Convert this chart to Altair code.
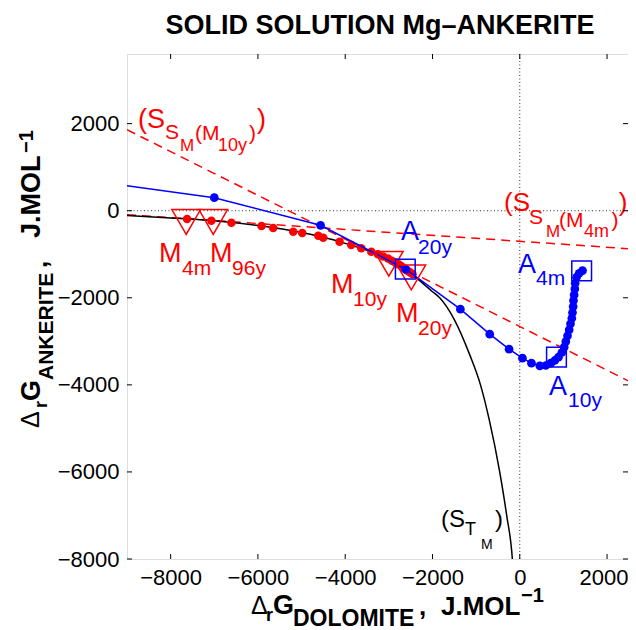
import altair as alt
import pandas as pd

FONT = "Liberation Sans"

# ---------------- data ----------------
# (S_TM) solid-solution curve (black)
stm_x = [-9000, -8000, -7000, -6000, -5000, -4500, -4000, -3500, -3000, -2600,
         -2300, -2000, -1835, -1500, -1150, -900, -700, -460, -300, -170, -150]
stm_y = [-110, -165, -230, -340, -500, -610, -750, -910, -1110, -1350,
         -1600, -1860, -2000, -2500, -3300, -4000, -4800, -6000, -7000, -8000, -8300]

# red points (Mg-ankerite samples on the S_TM curve)
red_x = [-7624, -7066, -6607, -5918, -5650, -5191, -4985, -4618, -4503, -4129,
         -3861, -3632, -3402, -3250, -3130, -3020, -2930, -2850, -2780, -2720,
         -2670, -2630, -2600, -2560, -2510, -2460]
red_y = [-190, -229, -275, -351, -397, -482, -512, -573, -619, -711,
         -787, -863, -940, -1000, -1050, -1100, -1150, -1190, -1230, -1270,
         -1310, -1340, -1360, -1385, -1420, -1455]

# blue path (ankerite)
blue_x = [-9600, -7000, -4565, -2615, -1361, -688, -245, 61, 268, 459, 596, 711,
          803, 887, 963, 1017, 1055, 1094, 1132, 1162, 1193, 1208, 1223, 1231,
          1246, 1262, 1269, 1300, 1361, 1438]
blue_y = [655, 300, -335, -1344, -2262, -2836, -3180, -3387, -3501, -3563, -3555,
          -3501, -3440, -3364, -3257, -3134, -3005, -2874, -2737, -2599, -2469,
          -2340, -2202, -2064, -1934, -1796, -1666, -1529, -1437, -1376]

# tangent lines (S_SM(M10y)) and (S_SM(M4m))
ss10_x = [-9000, 2600]
ss10_y = [1860, -3965]
ss4_x = [-9000, 2600]
ss4_y = [-90, -879]

# highlighted samples
tri_x = [-7644, -7024, -3001, -2485]
tri_y = [-259, -259, -1219, -1532]
sq_x = [-2623, 841, 1418]
sq_y = [-1342, -3364, -1379]

x_ticks = [-8000, -6000, -4000, -2000, 0, 2000]
y_ticks = [-8000, -6000, -4000, -2000, 0, 2000]

X_DOM = [-9000, 2480]
Y_DOM = [-8000, 3600]
W, H = 501, 505
PAD_L, PAD_T = 119, 46

# ---------------- annotation texts (data coords, left/baseline) ----------------
RED, BLUE, BLK = "#ff0000", "#0000ff", "#000000"
ann = [
    # (S_S_M(M_10y))
    (-8748, 1900, "(S", 27, RED), (-8129, 1648, "S", 21, RED), (-7785, 1372, "M", 17, RED),
    (-7441, 1625, "(M", 21, RED), (-6914, 1372, "10y", 18, RED), (-6204, 1625, ")", 21, RED),
    (-6020, 1900, ")", 27, RED),
    # (S_S_M(M_4m))
    (-359, -6, "(S", 26, RED), (214, -305, "S", 21, RED), (603, -604, "M", 17, RED),
    (901, -374, "(M", 21, RED), (1474, -604, "4m", 18, RED), (2100, -374, ")", 21, RED),
    (2270, -6, ")", 26, RED),
    # M labels
    (-8267, -1178, "M", 27, RED), (-7739, -1476, "4m", 21, RED),
    (-7098, -1178, "M", 27, RED), (-6593, -1476, "96y", 21, RED),
    (-4324, -1890, "M", 27, RED), (-3820, -2188, "10y", 21, RED),
    (-2835, -2556, "M", 27, RED), (-2330, -2855, "20y", 21, RED),
    # A labels
    (-2720, -672, "A", 27, BLUE), (-2330, -994, "20y", 21, BLUE),
    (-38, -1430, "A", 27, BLUE), (374, -1706, "4m", 21, BLUE),
    (672, -4233, "A", 27, BLUE), (1108, -4508, "10y", 21, BLUE),
    # (S_T_M)
    (-1803, -7265, "(S", 24, BLK), (-1253, -7449, "T", 18, BLK),
    (-886, -7770, "M", 14, BLK), (-565, -7265, ")", 24, BLK),
]
ann_df = pd.DataFrame(ann, columns=["x", "y", "t", "s", "c"])

xs = alt.Scale(domain=X_DOM, nice=False, zero=False)
ys = alt.Scale(domain=Y_DOM, nice=False, zero=False)

ax_common = dict(title=None, domain=False, ticks=False, grid=False,
                 labelFontSize=22, labelFont=FONT, labelColor="black", format="d",
                 labelPadding=8)
# last x label kept inside the page edge (right-aligned against the frame)
x_axis = alt.Axis(values=x_ticks, labelFlush=25, labelFlushOffset=21, **ax_common)
y_axis = alt.Axis(values=y_ticks, **ax_common)


def X(field="x"):
    return alt.X(f"{field}:Q", scale=xs, axis=x_axis)


def Y(field="y"):
    return alt.Y(f"{field}:Q", scale=ys, axis=y_axis)


layers = []

# zero lines (dotted)
zero = pd.DataFrame({"v": [0]})
layers.append(alt.Chart(zero).mark_rule(color="#333333", strokeDash=[1, 2.5], strokeWidth=1)
              .encode(x=X("v")))
layers.append(alt.Chart(zero).mark_rule(color="#333333", strokeDash=[1, 2.5], strokeWidth=1)
              .encode(y=Y("v")))

# dashed tangent lines
for lx, ly in [(ss10_x, ss10_y), (ss4_x, ss4_y)]:
    d = pd.DataFrame({"x": lx, "y": ly})
    layers.append(alt.Chart(d).mark_line(color=RED, strokeDash=[9, 6], strokeWidth=1.5, clip=True)
                  .encode(x=X(), y=Y()))

# black curve
stm = pd.DataFrame({"x": stm_x, "y": stm_y, "o": range(len(stm_x))})
layers.append(alt.Chart(stm).mark_line(color=BLK, strokeWidth=1.5, clip=True, interpolate="monotone")
              .encode(x=X(), y=Y(), order="o:Q"))

# red points
red = pd.DataFrame({"x": red_x, "y": red_y})
layers.append(alt.Chart(red).mark_circle(color=RED, size=72, opacity=1, clip=True)
              .encode(x=X(), y=Y()))

# blue path
blue = pd.DataFrame({"x": blue_x, "y": blue_y, "o": range(len(blue_x))})
layers.append(alt.Chart(blue).mark_line(color=BLUE, strokeWidth=1.5, clip=True)
              .encode(x=X(), y=Y(), order="o:Q"))
layers.append(alt.Chart(blue).mark_circle(color=BLUE, size=76, opacity=1, clip=True)
              .encode(x=X(), y=Y()))

# triangles and squares
tri = pd.DataFrame({"x": tri_x, "y": tri_y})
layers.append(alt.Chart(tri).mark_point(shape="triangle-down", size=820, color=RED, filled=False,
                                        strokeWidth=1.5, opacity=1)
              .encode(x=X(), y=Y()))
sq = pd.DataFrame({"x": sq_x, "y": sq_y})
layers.append(alt.Chart(sq).mark_point(shape="square", size=390, color=BLUE, filled=False,
                                       strokeWidth=1.5, opacity=1)
              .encode(x=X(), y=Y()))

# annotations
layers.append(alt.Chart(ann_df).mark_text(align="left", baseline="alphabetic", font=FONT)
              .encode(x=X(), y=Y(), text="t:N",
                      size=alt.Size("s:Q", scale=None, legend=None),
                      color=alt.Color("c:N", scale=None, legend=None)))

# inward ticks on all four sides
xt = pd.DataFrame({"v": x_ticks})
yt = pd.DataFrame({"v": y_ticks})
TL = 5
layers.append(alt.Chart(xt).mark_rule(color=BLK, strokeWidth=1)
              .encode(x=X("v"), y=alt.value(H), y2=alt.value(H - TL)))
layers.append(alt.Chart(xt).mark_rule(color=BLK, strokeWidth=1)
              .encode(x=X("v"), y=alt.value(0), y2=alt.value(TL)))
layers.append(alt.Chart(yt).mark_rule(color=BLK, strokeWidth=1)
              .encode(y=Y("v"), x=alt.value(0), x2=alt.value(TL)))
layers.append(alt.Chart(yt).mark_rule(color=BLK, strokeWidth=1)
              .encode(y=Y("v"), x=alt.value(W), x2=alt.value(W - TL)))

# title and axis titles with sub/superscripts (page pixel positions, converted to plot-relative)
OX, OY = 8 + PAD_L, 8 + PAD_T
layers.append(alt.Chart(zero).mark_text(text="SOLID SOLUTION Mg–ANKERITE", fontSize=27, fontWeight="bold",
                                        font=FONT, align="center", baseline="alphabetic", color=BLK)
              .encode(x=alt.value(380 - OX), y=alt.value(34 - OY)))
ytitle = [
    (39, 428, "Δ", 25, "normal"), (47, 408, "r", 18, "bold"), (40, 401, "G", 27, "bold"),
    (53, 380, "ANKERITE", 21, "bold"), (47, 268, ",", 26, "bold"),
    (40, 238, "J.MOL", 27, "bold"), (33, 153, "−1", 20, "bold"),
]
for px, py, t, s, w in ytitle:
    layers.append(alt.Chart(zero).mark_text(text=t, fontSize=s, fontWeight=w, font=FONT, angle=270,
                                            align="left", baseline="alphabetic", color=BLK)
                  .encode(x=alt.value(px - OX), y=alt.value(py - OY)))
xtitle = [
    (251, 614, "Δ", 25, "normal"), (266, 621, "r", 18, "bold"), (273, 614, "G", 27, "bold"),
    (293, 626, "DOLOMITE", 23, "bold"), (419, 615, ",", 26, "bold"),
    (441, 615, "J.MOL", 26, "bold"), (521, 602, "−1", 20, "bold"),
]
for px, py, t, s, w in xtitle:
    layers.append(alt.Chart(zero).mark_text(text=t, fontSize=s, fontWeight=w, font=FONT,
                                            align="left", baseline="alphabetic", color=BLK)
                  .encode(x=alt.value(px - OX), y=alt.value(py - OY)))

chart = alt.layer(*layers).properties(
    width=W, height=H,
    autosize=alt.AutoSizeParams(type="none"),
    padding={"left": PAD_L, "top": PAD_T, "right": 0, "bottom": 71},
).configure_view(stroke=BLK, strokeWidth=1).configure(background="white")

chart.save("out.html", embed_options={"renderer": "svg", "actions": False})
